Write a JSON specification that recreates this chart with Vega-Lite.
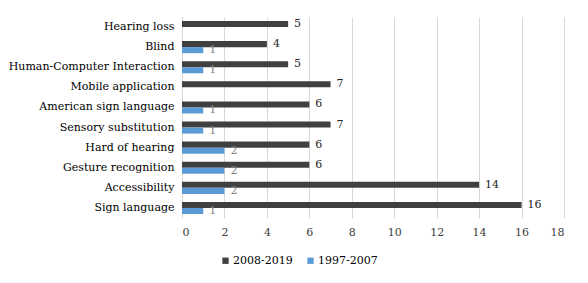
{
  "$schema": "https://vega.github.io/schema/vega-lite/v6.json",
  "width": 588,
  "height": 283,
  "autosize": {"type": "fit", "contains": "padding"},
  "padding": {"left": 8, "right": 24, "top": 17, "bottom": 46},
  "background": "white",
  "config": {
    "font": "DejaVu Serif",
    "view": {"stroke": null},
    "axis": {"labelFontSize": 11, "labelLimit": 0},
    "legend": {"labelFontSize": 11}
  },
  "data": {
    "values": [
      {"topic": "Hearing loss", "period": "2008-2019", "count": 5},
      {"topic": "Blind", "period": "2008-2019", "count": 4},
      {"topic": "Blind", "period": "1997-2007", "count": 1},
      {"topic": "Human-Computer Interaction", "period": "2008-2019", "count": 5},
      {"topic": "Human-Computer Interaction", "period": "1997-2007", "count": 1},
      {"topic": "Mobile application", "period": "2008-2019", "count": 7},
      {"topic": "American sign language", "period": "2008-2019", "count": 6},
      {"topic": "American sign language", "period": "1997-2007", "count": 1},
      {"topic": "Sensory substitution", "period": "2008-2019", "count": 7},
      {"topic": "Sensory substitution", "period": "1997-2007", "count": 1},
      {"topic": "Hard of hearing", "period": "2008-2019", "count": 6},
      {"topic": "Hard of hearing", "period": "1997-2007", "count": 2},
      {"topic": "Gesture recognition", "period": "2008-2019", "count": 6},
      {"topic": "Gesture recognition", "period": "1997-2007", "count": 2},
      {"topic": "Accessibility", "period": "2008-2019", "count": 14},
      {"topic": "Accessibility", "period": "1997-2007", "count": 2},
      {"topic": "Sign language", "period": "2008-2019", "count": 16},
      {"topic": "Sign language", "period": "1997-2007", "count": 1}
    ]
  },
  "encoding": {
    "y": {
      "field": "topic", "type": "nominal", "sort": null,
      "scale": {"paddingInner": 0.4, "paddingOuter": 0.2},
      "axis": {"title": null, "ticks": false, "domain": true, "domainColor": "#d9d9d9", "labelPadding": 8, "labelColor": "#000000"}
    },
    "yOffset": {"field": "period", "type": "nominal", "sort": ["2008-2019", "1997-2007"], "scale": {"domain": ["2008-2019", "1997-2007"]}},
    "x": {
      "field": "count", "type": "quantitative",
      "scale": {"domain": [0, 18], "nice": false},
      "axis": {"title": null, "values": [0, 2, 4, 6, 8, 10, 12, 14, 16, 18], "grid": true, "gridColor": "#d9d9d9", "ticks": false, "domain": false, "labelPadding": 8, "labelColor": "#404040"}
    }
  },
  "layer": [
    {
      "mark": {"type": "bar"},
      "encoding": {
        "color": {
          "field": "period", "type": "nominal",
          "scale": {"domain": ["2008-2019", "1997-2007"], "range": ["#404040", "#5b9bd5"]},
          "legend": {
            "title": null, "orient": "none", "direction": "horizontal",
            "legendX": 38, "legendY": 238,
            "symbolType": "square", "symbolSize": 40, "symbolStrokeWidth": 0,
            "labelColor": "#000000",
            "columnPadding": 12, "labelOffset": 2
          }
        }
      }
    },
    {
      "mark": {"type": "text", "align": "left", "dx": 6, "fontSize": 11},
      "encoding": {
        "text": {"field": "count", "type": "quantitative"},
        "color": {
          "field": "period", "type": "nominal",
          "scale": {"domain": ["2008-2019", "1997-2007"], "range": ["#262626", "#7f7f7f"]},
          "legend": null
        },
        "yOffset": {"field": "period", "type": "nominal", "sort": ["2008-2019", "1997-2007"], "scale": {"domain": ["2008-2019", "1997-2007"]}}
      }
    }
  ],
  "resolve": {"scale": {"color": "independent"}}
}
